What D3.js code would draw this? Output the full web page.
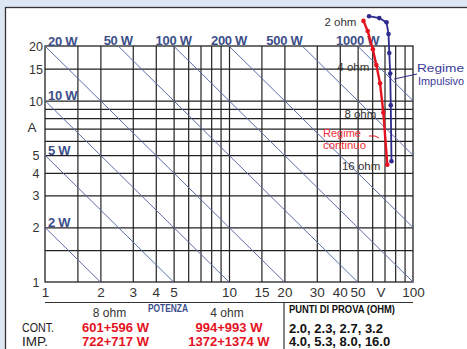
<!DOCTYPE html>
<html><head><meta charset="utf-8">
<script src="https://cdn.jsdelivr.net/npm/d3@7"></script>
<style>
html,body{margin:0;padding:0;background:#dde7f3;}
svg{display:block;}
text{font-family:"Liberation Sans",Arial,sans-serif;}
</style></head>
<body>
<svg id="chart" width="467" height="349"></svg>
<script>
// ---- data ----
const xGrid = [1.5,2,3,4,5,6,7,8,9,10,15,20,30,40,50,60,70,80,90];
const yGrid = [1.5,2,3,4,5,6,7,8,9,10,15];
const xTicks = [1,2,3,4,5,10,15,20,30,40,50,100];
const yTicks = [1,2,3,4,5,10,15,20];
const powerLines = [2,5,10,20,50,100,200,500,1000];
const powerLabels = ["2 W","5 W","10 W","20 W","50 W","100 W","200 W","500 W","1000 W"];
const contV = [53.8,56.7,60.5,63.2,66.2,69.0,72.5];
const contI = [27.5,24.2,19.2,15.7,12.45,8.59,4.43];
const impV = [57.7,65.6,71.8,73.6,74.3,75.2,75.7,76.4];
const impI = [29.2,28.5,27.0,23.3,18.3,14.1,9.42,4.63];
const ohmLabels = ["2 ohm","4 ohm","8 ohm","16 ohm"];
const ohmPointIdx = [0,3,5,6];
const tableHeads = ["8 ohm","4 ohm"];
const rowNames = ["CONT.","IMP."];
const power8 = ["601+596 W","722+717 W"];
const power4 = ["994+993 W","1372+1374 W"];
const testPoints = ["2.0, 2.3, 2.7, 3.2","4.0, 5.3, 8.0, 16.0"];

// ---- drawing ----
const svg = d3.select("#chart");
const x = d3.scaleLog().domain([1,100]).range([45,413]);
const y = d3.scaleLog().domain([1,20]).range([282,46]);
const BLUE = "#3d4f8a", RED = "#e5121f", NAVY = "#2d2b8c";

// frame
svg.append("rect").attr("x",5.5).attr("y",7.5).attr("width",480).attr("height",360)
  .attr("fill","#fff").attr("stroke","#333").attr("stroke-width",1.3);

// grid via axes
const gx = svg.append("g").attr("transform","translate(0,282)")
  .call(d3.axisBottom(x).tickValues(xGrid).tickSize(-236).tickFormat(""));
const gy = svg.append("g").attr("transform","translate(45,0)")
  .call(d3.axisLeft(y).tickValues(yGrid).tickSize(-368).tickFormat(""));
[gx,gy].forEach(g=>{g.select(".domain").remove();
  g.selectAll("line").attr("stroke","#222").attr("stroke-width",1.2);});
svg.append("rect").attr("x",x(1)).attr("y",y(20)).attr("width",x(100)-x(1)).attr("height",y(1)-y(20))
  .attr("fill","none").attr("stroke","#222").attr("stroke-width",1.3);

// power diagonals
svg.append("defs").append("clipPath").attr("id","pc").append("rect")
  .attr("x",x(1)).attr("y",y(20)).attr("width",x(100)-x(1)).attr("height",y(1)-y(20));
const pl = svg.append("g").attr("clip-path","url(#pc)");
powerLines.forEach(P=>{
  const v0 = Math.max(1,P/20), v1 = Math.min(100,P);
  pl.append("line").attr("x1",x(v0)).attr("y1",y(P/v0)).attr("x2",x(v1)).attr("y2",y(P/v1))
    .attr("stroke","#5a6ea8").attr("stroke-width",1);
});
powerLines.forEach((P,i)=>{
  const t = svg.append("text").text(powerLabels[i]).attr("fill",BLUE)
    .attr("font-weight","bold").attr("font-size",13).attr("letter-spacing",-0.3);
  if (P <= 20) {
    t.attr("x",48).attr("y",y(P)-0.5);
  } else {
    const v = P===500 ? 20 : P/20;
    t.attr("x",x(v)).attr("y",44.5).attr("text-anchor","middle");
  }
});

// axis labels
const ax = svg.append("g").attr("transform","translate(0,297)")
  .call(d3.axisBottom(x).tickValues(xTicks).tickSize(0).tickPadding(0).tickFormat(d3.format("d")));
ax.select(".domain").remove();
ax.selectAll("text").attr("font-size",13.5).attr("fill","#333").attr("dy",0)
  .style("font-family","'Liberation Sans',Arial,sans-serif");
svg.append("text").text("V").attr("x",x(67)).attr("y",297).attr("text-anchor","middle")
  .attr("font-size",13.5).attr("fill","#333");
const ay = svg.append("g").attr("transform","translate(36,0)")
  .call(d3.axisLeft(y).tickValues(yTicks).tickSize(0).tickPadding(0).tickFormat(d3.format("d")));
ay.select(".domain").remove();
ay.selectAll("text").attr("font-size",12.5).attr("fill","#333").attr("text-anchor","middle").attr("dy","0.36em")
  .style("font-family","'Liberation Sans',Arial,sans-serif");
svg.append("text").text("A").attr("x",32).attr("y",y(7.1)+4.5).attr("text-anchor","middle")
  .attr("font-size",13.5).attr("fill","#333");

// curves
const line = d3.line().x(d=>x(d[0])).y(d=>y(d[1]));
const cont = contV.map((v,i)=>[v,contI[i]]);
const imp = impV.map((v,i)=>[v,impI[i]]);
svg.append("path").attr("d",line(imp)).attr("fill","none").attr("stroke",NAVY).attr("stroke-width",1.8);
svg.selectAll(".di").data(imp).enter().append("circle").attr("cx",d=>x(d[0])).attr("cy",d=>y(d[1]))
  .attr("r",2.3).attr("fill",NAVY);
svg.append("path").attr("d",line(cont)).attr("fill","none").attr("stroke",RED).attr("stroke-width",2.4);
svg.selectAll(".dc").data(cont).enter().append("circle").attr("cx",d=>x(d[0])).attr("cy",d=>y(d[1]))
  .attr("r",2.3).attr("fill",RED);

// ohm labels
ohmLabels.forEach((s,i)=>{
  const p = cont[ohmPointIdx[i]];
  svg.append("text").text(s).attr("x",x(p[0])-7).attr("y",y(p[1])+5.5).attr("text-anchor","end")
    .attr("font-size",11.5).attr("fill","#333");
});

// annotations
svg.append("path").attr("d","M394,79 L417,74").attr("stroke",NAVY).attr("stroke-width",1).attr("fill","none");
svg.append("text").text("Regime").attr("x",417).attr("y",71.5).attr("font-size",11).attr("fill","#3a3a9a")
  .attr("textLength",47).attr("lengthAdjust","spacingAndGlyphs");
svg.append("text").text("Impulsivo").attr("x",418).attr("y",84.5).attr("font-size",11).attr("fill","#3a3a9a")
  .attr("textLength",46).attr("lengthAdjust","spacingAndGlyphs");
svg.append("path").attr("d","M369,136 Q376,135 379,138").attr("stroke",RED).attr("stroke-width",1).attr("fill","none");
svg.append("text").text("Regime").attr("x",323).attr("y",137).attr("font-size",11).attr("fill","#f0303a")
  .attr("textLength",38).attr("lengthAdjust","spacingAndGlyphs");
svg.append("text").text("continuo").attr("x",323).attr("y",148.5).attr("font-size",11).attr("fill","#f0303a")
  .attr("textLength",43).attr("lengthAdjust","spacingAndGlyphs");

// table below
svg.append("line").attr("x1",45).attr("x2",413).attr("y1",302.5).attr("y2",302.5).attr("stroke","#333").attr("stroke-width",1.2);
svg.append("line").attr("x1",284).attr("x2",284).attr("y1",303).attr("y2",349).attr("stroke","#333").attr("stroke-width",1.2);
svg.append("text").text(tableHeads[0]).attr("x",109.5).attr("y",316.7).attr("text-anchor","middle").attr("font-size",12).attr("fill","#333");
svg.append("text").text(tableHeads[1]).attr("x",227).attr("y",316.7).attr("text-anchor","middle").attr("font-size",12).attr("fill","#333");
svg.append("text").text("POTENZA").attr("x",148).attr("y",312.3).attr("font-size",10).attr("font-weight","bold")
  .attr("fill",BLUE).attr("textLength",40).attr("lengthAdjust","spacingAndGlyphs");
svg.append("text").text("PUNTI DI PROVA (OHM)").attr("x",289).attr("y",313.3).attr("font-size",10).attr("font-weight","bold")
  .attr("fill","#111").attr("textLength",106).attr("lengthAdjust","spacingAndGlyphs");
const rowY = [332.3,346];
rowNames.forEach((s,i)=>{
  svg.append("text").text(s).attr("x",22).attr("y",rowY[i]).attr("font-size",12.5).attr("fill","#222")
    .attr("textLength",i===0?32:26).attr("lengthAdjust","spacingAndGlyphs");
  svg.append("text").text(power8[i]).attr("x",115.5).attr("y",rowY[i]).attr("text-anchor","middle")
    .attr("font-size",13).attr("font-weight","bold").attr("fill",RED);
  svg.append("text").text(power4[i]).attr("x",229).attr("y",rowY[i]).attr("text-anchor","middle")
    .attr("font-size",13).attr("font-weight","bold").attr("fill",RED);
  svg.append("text").text(testPoints[i]).attr("x",289).attr("y",rowY[i]+0.4)
    .attr("font-size",13).attr("font-weight","bold").attr("fill","#111");
});
</script>
</body></html>
